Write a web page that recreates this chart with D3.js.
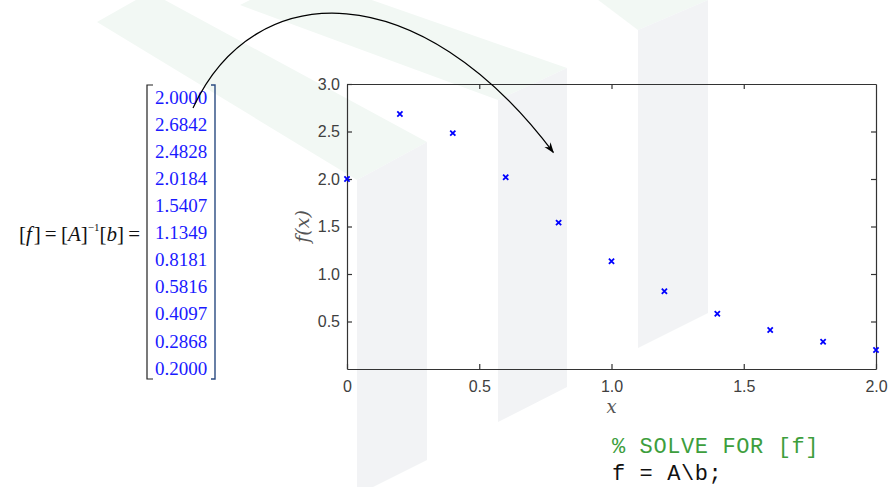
<!DOCTYPE html>
<html>
<head>
<meta charset="utf-8">
<script src="https://cdn.jsdelivr.net/npm/d3@7"></script>
<style>
  body { margin: 0; background: #fff; }
  svg { display: block; }
  .axis path, .axis line { stroke: #333; stroke-width: 1.2; }
  .axis text { font-family: "Liberation Sans", Arial, sans-serif; font-size: 16px; fill: #404040; }
</style>
</head>
<body>
<svg id="vis-svg" width="891" height="487"></svg>
<script>

// Data
var xValues = [0, 0.2, 0.4, 0.6, 0.8, 1.0, 1.2, 1.4, 1.6, 1.8, 2.0];
var fValues = [2.0000, 2.6842, 2.4828, 2.0184, 1.5407, 1.1349, 0.8181, 0.5816, 0.4097, 0.2868, 0.2000];
var xTicks = [0, 0.5, 1.0, 1.5, 2.0];
var xTickLabels = ['0', '0.5', '1.0', '1.5', '2.0'];
var yTicks = [0.5, 1.0, 1.5, 2.0, 2.5, 3.0];
var yTickLabels = ['0.5', '1.0', '1.5', '2.0', '2.5', '3.0'];
var codeLines = ['% SOLVE FOR [f]', 'f = A\\b;'];

function drawChart() {

var svg = d3.select('#vis-svg');

// Watermark in the background
var bg = svg.append('g');
var greens = [
  [[97,22],[150,-8],[427,142],[357,180]],
  [[240,5],[300,-25],[567,68],[498,100]],
  [[585,-10],[620,-30],[708,0],[638,30]]
];
var grays = [
  [[357,180],[427,142],[427,460],[357,495]],
  [[498,100],[567,68],[567,387],[498,422]],
  [[638,30],[708,0],[708,313],[638,348]]
];
greens.forEach(function(p){
  bg.append('path').attr('d', 'M' + p.join('L') + 'Z').attr('fill', '#f2f8f4');
});
grays.forEach(function(p){
  bg.append('path').attr('d', 'M' + p.join('L') + 'Z').attr('fill', '#f2f3f5');
});

// Bounds
var plot = { left: 347, right: 876, top: 84, bottom: 369 };

// X Scale
var xScale = d3.scaleLinear()
  .domain([0, 2])
  .range([plot.left, plot.right]);

// Y Scale
var yScale = d3.scaleLinear()
  .domain([0, 3])
  .range([plot.bottom, plot.top]);

// X Axis (bottom)
svg.append('g')
  .attr('class', 'axis')
  .attr('transform', 'translate(0,' + plot.bottom + ')')
  .call(d3.axisBottom(xScale).tickValues(xTicks)
    .tickFormat(function(d, i){ return xTickLabels[i]; })
    .tickSizeInner(-5).tickSizeOuter(0).tickPadding(12));

// X Axis (top, no labels)
svg.append('g')
  .attr('class', 'axis')
  .attr('transform', 'translate(0,' + plot.top + ')')
  .call(d3.axisTop(xScale).tickValues(xTicks.slice(1, 4))
    .tickFormat('').tickSizeInner(-5).tickSizeOuter(0));

// Y Axis (left)
svg.append('g')
  .attr('class', 'axis')
  .attr('transform', 'translate(' + plot.left + ',0)')
  .call(d3.axisLeft(yScale).tickValues(yTicks)
    .tickFormat(function(d, i){ return yTickLabels[i]; })
    .tickSizeInner(-5).tickSizeOuter(0).tickPadding(7));

// Y Axis (right, no labels)
svg.append('g')
  .attr('class', 'axis')
  .attr('transform', 'translate(' + plot.right + ',0)')
  .call(d3.axisRight(yScale).tickValues(yTicks.slice(0, 5))
    .tickFormat('').tickSizeInner(-5).tickSizeOuter(0));

// Axis Labels
svg.append('text')
  .attr('transform', 'translate(' + (plot.left - 38) + ',' + yScale(1.5) + ') rotate(-90)')
  .attr('text-anchor', 'middle')
  .style('font-family', '"DejaVu Serif", serif')
  .style('font-style', 'italic')
  .style('font-size', '19px')
  .style('fill', '#555')
  .text('f(x)');

svg.append('text')
  .attr('x', xScale(1.0))
  .attr('y', plot.bottom + 44)
  .attr('text-anchor', 'middle')
  .style('font-family', '"DejaVu Serif", serif')
  .style('font-style', 'italic')
  .style('font-size', '18px')
  .style('fill', '#555')
  .text('x');

// Points (x markers)
var r = 2.6;
svg.append('g')
  .selectAll('path')
  .data(xValues)
  .enter()
  .append('path')
  .attr('d', function(d, i){
    var cx = xScale(d), cy = yScale(fValues[i]);
    return 'M' + (cx - r) + ',' + (cy - r) + 'L' + (cx + r) + ',' + (cy + r) +
           'M' + (cx - r) + ',' + (cy + r) + 'L' + (cx + r) + ',' + (cy - r);
  })
  .attr('stroke', '#0000ff')
  .attr('stroke-width', 1.8)
  .attr('fill', 'none');

// Matrix of solved values
var mat = { left: 147, right: 215, top: 85, bottom: 379, firstRow: 97, rowStep: 27.1 };
svg.append('g')
  .selectAll('text')
  .data(fValues)
  .enter()
  .append('text')
  .attr('x', 155)
  .attr('y', function(d, i){ return mat.firstRow + i * mat.rowStep; })
  .attr('dy', '0.35em')
  .style('font-family', '"Liberation Serif", "Times New Roman", serif')
  .style('font-size', '19px')
  .style('fill', '#1a1aff')
  .text(function(d){ return d.toFixed(4); });

svg.append('path')
  .attr('d', 'M' + (mat.left + 6) + ',' + mat.top + 'H' + mat.left + 'V' + mat.bottom + 'H' + (mat.left + 6))
  .attr('fill', 'none').attr('stroke', '#222').attr('stroke-width', 1.2);
svg.append('path')
  .attr('d', 'M' + (mat.right - 4) + ',' + mat.top + 'H' + mat.right + 'V' + mat.bottom + 'H' + (mat.right - 4))
  .attr('fill', 'none').attr('stroke', '#2a4a80').attr('stroke-width', 1.4);

// Equation label
var eq = svg.append('text')
  .attr('x', 140)
  .attr('y', 241)
  .attr('text-anchor', 'end')
  .style('font-family', '"Liberation Serif", "Times New Roman", serif')
  .style('font-size', '21px')
  .style('fill', '#111');
eq.append('tspan').text('[');
eq.append('tspan').style('font-style', 'italic').text('f');
eq.append('tspan').text('\u200a]\u2009=\u2009[');
eq.append('tspan').style('font-style', 'italic').text('A');
eq.append('tspan').text(']');
eq.append('tspan').attr('dy', -10).style('font-size', '11px').text('\u22121');
eq.append('tspan').attr('dy', 10).text('[');
eq.append('tspan').style('font-style', 'italic').text('b');
eq.append('tspan').text(']\u2009=');

// Arrow from the matrix to the chart
svg.append('defs').append('marker')
  .attr('id', 'arrowhead')
  .attr('viewBox', '0 0 10 10')
  .attr('refX', 9).attr('refY', 5)
  .attr('markerWidth', 9).attr('markerHeight', 9)
  .attr('orient', 'auto')
  .append('path')
  .attr('d', 'M0,1.5L10,5L0,8.5L3,5Z')
  .attr('fill', '#000');

var start = [193, mat.firstRow + 11];
var end = [xScale(0.78), yScale(2.28)];
var arrow = d3.path();
arrow.moveTo(start[0], start[1]);
arrow.bezierCurveTo(255, -25, 420, -25, end[0], end[1]);
svg.append('path')
  .attr('d', arrow.toString())
  .attr('fill', 'none')
  .attr('stroke', '#000')
  .attr('stroke-width', 1.2)
  .attr('marker-end', 'url(#arrowhead)');

// Code snippet
svg.append('g')
  .selectAll('text')
  .data(codeLines)
  .enter()
  .append('text')
  .attr('x', 612)
  .attr('y', function(d, i){ return 453 + i * 27; })
  .style('font-family', '"Liberation Mono", "Courier New", monospace')
  .style('font-size', '22px')
  .style('letter-spacing', '0.6px')
  .style('fill', function(d, i){ return i === 0 ? '#3d9e3d' : '#111'; })
  .text(function(d){ return d; });

}

drawChart();

</script>
</body>
</html>
